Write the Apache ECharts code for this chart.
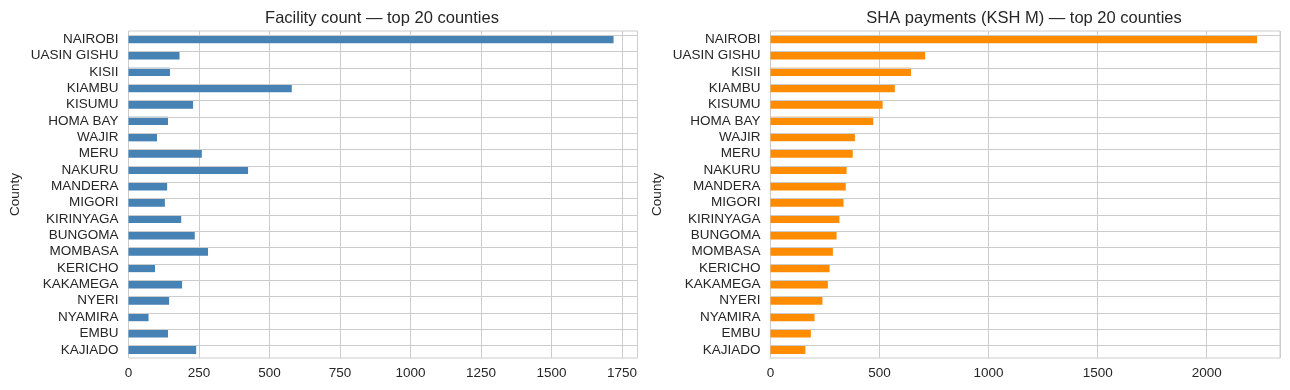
<!DOCTYPE html>
<html>
<head>
<meta charset="utf-8">
<script src="https://cdn.jsdelivr.net/npm/echarts@6/dist/echarts.min.js"></script>
<style>
html,body{margin:0;padding:0;background:#fff;}
#c{width:1290px;height:390px;}
</style>
</head>
<body>
<div id="c"></div>
<script>
const counties = ["NAIROBI","UASIN GISHU","KISII","KIAMBU","KISUMU","HOMA BAY","WAJIR","MERU","NAKURU","MANDERA","MIGORI","KIRINYAGA","BUNGOMA","MOMBASA","KERICHO","KAKAMEGA","NYERI","NYAMIRA","EMBU","KAJIADO"];
const facilityCount = [1720,181,147,579,229,140,101,260,424,137,129,187,235,282,94,190,144,71,140,240];
const shaPayments = [2231,709,644,570,514,471,387,377,349,345,335,316,303,286,271,263,238,202,185,160];
const leftTicks = {min:0, max:1805, interval:250};
const rightTicks = {min:0, max:2336, interval:500};

const FONT = 'Liberation Sans, Arial, sans-serif';
const TXT = '#262626';
const GRIDC = '#cccccc';
const TICKFS = 13.5;

function xAxisCfg(idx, t){
  return {
    type:'value', gridIndex:idx, min:t.min, max:t.max, interval:t.interval,
    axisLine:{show:false}, axisTick:{show:false},
    axisLabel:{color:TXT, fontFamily:FONT, fontSize:TICKFS, margin:8,
      showMaxLabel:false, formatter:v=>String(v)},
    splitLine:{show:true, lineStyle:{color:GRIDC, width:1}}
  };
}
function yAxisCfg(idx){
  return {
    type:'category', gridIndex:idx, data:counties, inverse:true,
    axisLine:{show:false}, axisTick:{show:false},
    splitLine:{show:false},
    axisLabel:{color:TXT, fontFamily:FONT, fontSize:TICKFS, margin:10, interval:0},
    name:'County', nameLocation:'middle', nameGap:106, nameRotate:90,
    nameTextStyle:{color:TXT, fontFamily:FONT, fontSize:TICKFS}
  };
}
function gridLines(idx){
  return {
    type:'bar', xAxisIndex:idx, yAxisIndex:idx, data:[], z:1, silent:true,
    markLine:{silent:true, symbol:'none', label:{show:false},
      lineStyle:{color:GRIDC, width:1, type:'solid'},
      animation:false,
      data: counties.map(c=>({yAxis:c}))}
  };
}

const chart = echarts.init(document.getElementById('c'), null, {renderer:'canvas'});
chart.setOption({
  animation:false,
  backgroundColor:'#ffffff',
  title:[
    {text:'Facility count — top 20 counties', left:377, top:5, textAlign:'center',
     textStyle:{color:TXT, fontFamily:FONT, fontSize:16.5, fontWeight:'normal'}},
    {text:'SHA payments (KSH M) — top 20 counties', left:1019, top:5, textAlign:'center',
     textStyle:{color:TXT, fontFamily:FONT, fontSize:16.5, fontWeight:'normal'}}
  ],
  grid:[
    {left:128.5, right:652.5, top:31, bottom:32, show:true, borderColor:GRIDC, borderWidth:1, backgroundColor:'transparent'},
    {left:770.5, right:10, top:31, bottom:32, show:true, borderColor:GRIDC, borderWidth:1, backgroundColor:'transparent'}
  ],
  xAxis:[xAxisCfg(0, leftTicks), xAxisCfg(1, rightTicks)],
  yAxis:[yAxisCfg(0), yAxisCfg(1)],
  series:[
    gridLines(0), gridLines(1),
    {type:'bar', xAxisIndex:0, yAxisIndex:0, data:facilityCount, barWidth:'50%', z:3,
     itemStyle:{color:'#4682b4'}},
    {type:'bar', xAxisIndex:1, yAxisIndex:1, data:shaPayments, barWidth:'50%', z:3,
     itemStyle:{color:'#ff8c00'}}
  ]
});
</script>
</body>
</html>
